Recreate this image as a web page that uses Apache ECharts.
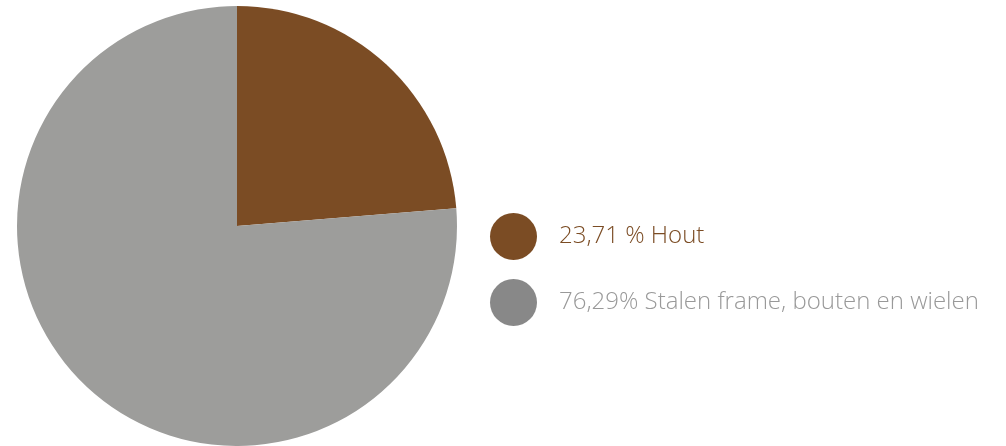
<!DOCTYPE html>
<html>
<head>
<meta charset="utf-8">
<script src="https://cdn.jsdelivr.net/npm/echarts@6/dist/echarts.min.js"></script>
<style>
  html, body { margin: 0; padding: 0; background: #fff; }
  #chart { width: 1006px; height: 446px; }
</style>
</head>
<body>
<div id="chart"></div>
<script>
const names = ['Hout', 'Stalen frame, bouten en wielen']
const values = [23.71, 76.29]
const legendLabels = ['23,71 % Hout', '76,29% Stalen frame, bouten en wielen']
const sliceColors = ['#7b4c24', '#9d9d9b']
const legendColors = ['#7b4c24', '#888888']
const textColors = ['#7b4c24', '#999999']

const chart = echarts.init(document.getElementById('chart'))

chart.setOption({
  animation: false,
  legend: {
    orient: 'vertical',
    left: 490,
    top: 213,
    padding: 0,
    icon: 'circle',
    itemWidth: 47,
    itemHeight: 47,
    itemGap: 19,
    selectedMode: false,
    formatter: (name) => legendLabels[names.indexOf(name)],
    textStyle: {
      fontFamily: 'Open Sans',
      fontWeight: 300,
      fontSize: 24,
      padding: [0, 0, 0, 17]
    },
    data: names.map((n, i) => ({
      name: n,
      itemStyle: { color: legendColors[i] },
      textStyle: { color: textColors[i] }
    }))
  },
  series: [{
    type: 'pie',
    center: [237, 226],
    radius: 220,
    startAngle: 90,
    clockwise: true,
    label: { show: false },
    labelLine: { show: false },
    emphasis: { disabled: true },
    data: names.map((n, i) => ({
      name: n,
      value: values[i],
      itemStyle: { color: sliceColors[i] }
    }))
  }]
})
</script>
</body>
</html>
